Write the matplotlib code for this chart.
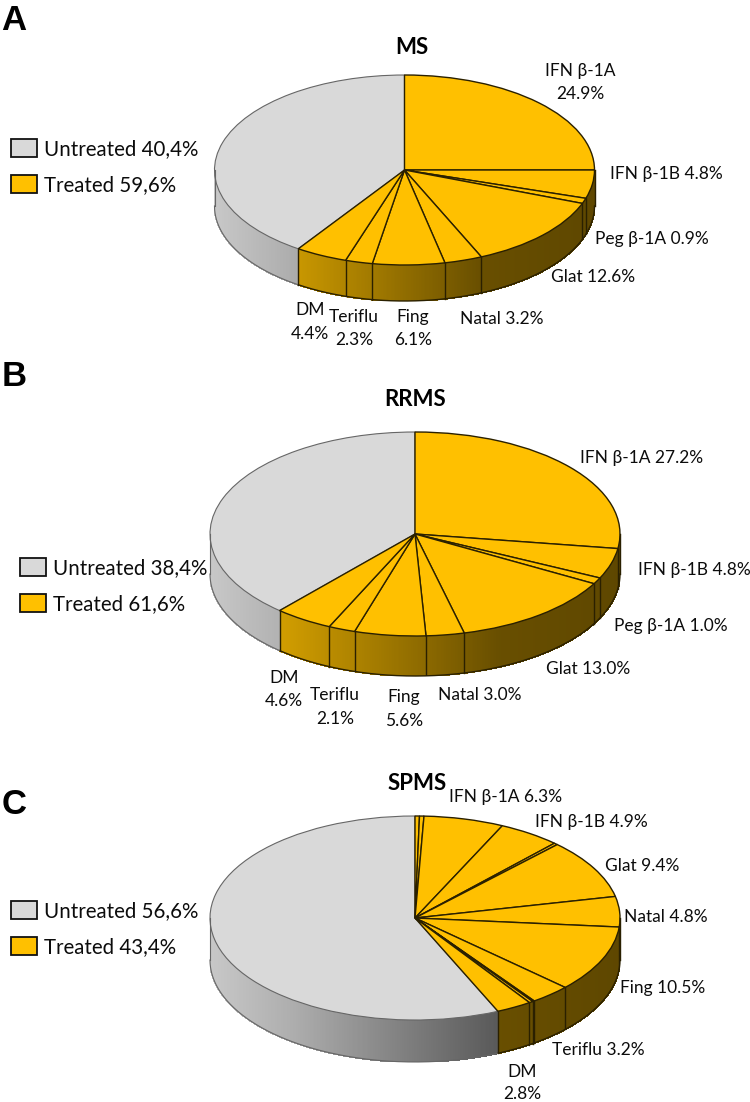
import numpy as np
import matplotlib
matplotlib.use('Agg')
import matplotlib.pyplot as plt
from matplotlib.collections import PolyCollection
from matplotlib.patches import Rectangle

W, H = 750, 1102
LABEL_FONT = ['Lato', 'Noto Sans', 'DejaVu Sans']

# percent per slice, clockwise from 12 o'clock, untreated is always last
ms_values = [24.9, 4.8, 0.9, 12.6, 3.2, 6.1, 2.3, 4.4, 40.4]
rrms_values = [27.2, 4.8, 1.0, 13.0, 3.0, 5.6, 2.1, 4.6, 38.4]
spms_values = [0.35, 0.35, 6.3, 4.9, 0.3, 9.4, 4.8, 10.5, 3.2, 0.15, 0.3, 2.8, 56.6]

ms_legend = ['Untreated 40,4%', 'Treated 59,6%']
rrms_legend = ['Untreated 38,4%', 'Treated 61,6%']
spms_legend = ['Untreated 56,6%', 'Treated 43,4%']

# text, x, y, ha in pixels of the picture
ms_labels = [('IFN β-1A', 580, 71, 'center'), ('24.9%', 580, 94, 'center'),
             ('IFN β-1B 4.8%', 610, 174, 'left'), ('Peg β-1A 0.9%', 595, 239, 'left'),
             ('Glat 12.6%', 551, 277, 'left'), ('Natal 3.2%', 460, 319, 'left'),
             ('Fing', 413, 317, 'center'), ('6.1%', 413, 340, 'center'),
             ('Teriflu', 354, 317, 'center'), ('2.3%', 354, 340, 'center'),
             ('DM', 310, 310, 'center'), ('4.4%', 310, 334, 'center')]
rrms_labels = [('IFN β-1A 27.2%', 580, 458, 'left'), ('IFN β-1B 4.8%', 638, 570, 'left'),
               ('Peg β-1A 1.0%', 614, 626, 'left'), ('Glat 13.0%', 546, 669, 'left'),
               ('Natal 3.0%', 438, 695, 'left'),
               ('Fing', 404, 697, 'center'), ('5.6%', 404, 721, 'center'),
               ('Teriflu', 335, 695, 'center'), ('2.1%', 335, 719, 'center'),
               ('DM', 284, 678, 'center'), ('4.6%', 284, 701, 'center')]
spms_labels = [('IFN β-1A 6.3%', 449, 797, 'left'), ('IFN β-1B 4.9%', 535, 822, 'left'),
               ('Glat 9.4%', 605, 866, 'left'), ('Natal 4.8%', 624, 917, 'left'),
               ('Fing 10.5%', 620, 988, 'left'), ('Teriflu 3.2%', 552, 1050, 'left'),
               ('DM', 522, 1072, 'center'), ('2.8%', 522, 1094, 'center')]

GRAY = np.array([0xd9, 0xd9, 0xd9]) / 255
GOLD = np.array([0xff, 0xc0, 0x00]) / 255


def shade(x):
    # side wall gets darker from left to right
    return np.interp((x + 1) / 2, [0, 0.2, 0.7, 1], [0.92, 0.8, 0.41, 0.37])


def tilted_pie(fig, values, cx, cy, rx, ry, depth):
    d = depth / ry
    ax = fig.add_axes([(cx - rx) / W, 1 - (cy + ry + depth) / H, 2 * rx / W, (2 * ry + depth) / H])
    colors = ['#ffc000'] * (len(values) - 1) + ['#d9d9d9']
    wedges, _ = ax.pie(values, colors=colors, startangle=90, counterclock=False,
                       wedgeprops=dict(edgecolor='#2a2000', linewidth=1.0))
    wedges[-1].set_edgecolor('#666666')
    wedges[-1].set_linewidth(0.8)
    wedges[-1].set_zorder(1)
    for w in wedges[:-1]:
        w.set_zorder(2)
    ax.set_aspect('auto')
    ax.set_xlim(-1, 1)
    ax.set_ylim(-1 - d, 1)
    ax.set_axis_off()

    # side wall below the front half of the ellipse
    edges = np.cumsum([0] + list(values)) / np.sum(values) * 2 * np.pi
    quads, quad_colors = [], []
    for i in range(len(values)):
        a0, a1 = max(edges[i], np.pi / 2), min(edges[i + 1], 3 * np.pi / 2)
        if a1 <= a0:
            continue
        base = GRAY if i == len(values) - 1 else GOLD
        steps = np.linspace(a0, a1, max(2, int((a1 - a0) * 120) + 1))
        for t0, t1 in zip(steps[:-1], steps[1:]):
            x0, x1 = np.sin(t0), np.sin(t1)
            y0, y1 = np.cos(t0), np.cos(t1)
            quads.append([(x0, y0), (x1, y1), (x1, y1 - d), (x0, y0 - d)])
            quad_colors.append(base * shade((x0 + x1) / 2))
    ax.add_collection(PolyCollection(quads, facecolors=quad_colors, edgecolors=quad_colors,
                                     linewidths=0.6, antialiaseds=False, zorder=0))

    # outlines of the wall
    t = np.linspace(np.pi / 2, edges[-2], 200)
    ax.plot(np.sin(t), np.cos(t) - d, color='#2a2000', lw=1.0, zorder=3, clip_on=False)
    t = np.linspace(edges[-2], 3 * np.pi / 2, 200)
    ax.plot(np.sin(t), np.cos(t) - d, color='#666666', lw=0.8, zorder=3, clip_on=False)
    ax.plot([1, 1], [0, -d], color='#2a2000', lw=1.0, zorder=3, clip_on=False)
    ax.plot([-1, -1], [0, -d], color='#666666', lw=0.8, zorder=3, clip_on=False)
    for e in edges[1:-1]:
        if np.pi / 2 < e < 3 * np.pi / 2:
            ax.plot([np.sin(e)] * 2, [np.cos(e), np.cos(e) - d], color='#2a2000', lw=1.0, zorder=3)
    return ax


fig = plt.figure(figsize=(W / 100, H / 100), dpi=100)

tilted_pie(fig, ms_values, 404.5, 170, 190, 95, 36)
tilted_pie(fig, rrms_values, 415, 534, 205, 102, 40)
tilted_pie(fig, spms_values, 415, 918, 205, 102, 42)

# overlay in picture pixels for the texts and legend boxes
over = fig.add_axes([0, 0, 1, 1], zorder=10)
over.set_xlim(0, W)
over.set_ylim(H, 0)
over.set_axis_off()
over.patch.set_alpha(0)

for labels in (ms_labels, rrms_labels, spms_labels):
    for txt, x, y, ha in labels:
        over.text(x, y, txt, ha=ha, va='center', fontsize=12.5, family=LABEL_FONT, color='#0c0c0c')

for txt, x, y in [('MS', 412, 48), ('RRMS', 415, 400), ('SPMS', 417, 783)]:
    over.text(x, y, txt, ha='center', va='center', fontsize=16, fontweight='bold', family=LABEL_FONT, color='#000000')

for txt, y in [('A', 20), ('B', 376), ('C', 805)]:
    over.text(14, y, txt, ha='center', va='center', fontsize=25, fontweight='bold', family='Liberation Sans')

for legend, x, y in [(ms_legend, 11, 139), (rrms_legend, 20, 558), (spms_legend, 11, 901)]:
    over.add_patch(Rectangle((x, y), 26, 18, fc='#d9d9d9', ec='#111111', lw=1.3))
    over.add_patch(Rectangle((x - 0.5, y + 35.5), 26, 18, fc='#ffc000', ec='#111111', lw=1.3))
    over.text(x + 33, y + 10, legend[0], ha='left', va='center', fontsize=14.8, family=LABEL_FONT, color='#0c0c0c')
    over.text(x + 33, y + 46, legend[1], ha='left', va='center', fontsize=14.8, family=LABEL_FONT, color='#0c0c0c')

fig.savefig('out.png', dpi=100)
